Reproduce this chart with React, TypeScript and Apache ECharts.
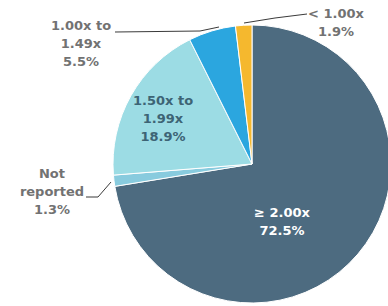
import React, { useEffect, useRef } from "react";
import * as echarts from "echarts";

const categories = ["≥ 2.00x", "Not reported", "1.50x to\n1.99x", "1.00x to\n1.49x", "< 1.00x"];
const values = [72.5, 1.3, 18.9, 5.5, 1.9];
const labelNames = ["≥ 2.00x", "Not\nreported", "1.50x to\n1.99x", "1.00x to\n1.49x", "< 1.00x"];
const colors = ["#4d6b80", "#88cbde", "#9cdce4", "#2ba6df", "#f5b82e"];

// label layout (positions only)
const labelPos: [number, number][] = [
  [282, 221],
  [52, 191],
  [163, 118],
  [81, 43],
  [336, 22],
];
const leaderPts: ([number, number][] | null)[] = [
  null,
  [[86, 197], [98, 197], [111, 182]],
  null,
  [[115, 32], [200, 31], [219, 27]],
  [[307, 14], [275, 18], [244, 23]],
];
const textColors = ["#ffffff", "#727272", "#3d6475", "#727272", "#727272"];

export default function App() {
  const ref = useRef<HTMLDivElement>(null);
  useEffect(() => {
    if (!ref.current) return;
    const chart = echarts.init(ref.current, undefined, { renderer: "svg" });
    const inside = [true, false, true, false, false];
    chart.setOption({
      animation: false,
      backgroundColor: "#ffffff",
      series: [
        {
          type: "pie",
          center: [252, 164],
          radius: 139,
          startAngle: 90,
          clockwise: true,
          avoidLabelOverlap: false,
          itemStyle: { borderColor: "#ffffff", borderWidth: 1 },
          data: categories.map((c, i) => ({
            name: c,
            value: values[i],
            itemStyle: { color: colors[i] },
            label: {
              show: true,
              position: inside[i] ? "inside" : "outside",
              formatter: labelNames[i] + "\n" + values[i].toFixed(1) + "%",
              color: textColors[i],
              fontFamily: "DejaVu Sans",
              fontWeight: "bold",
              fontSize: 13,
              lineHeight: 18,
              align: "center",
            },
            labelLine: {
              show: !inside[i],
              lineStyle: { color: "#3a3a3a", width: 1 },
            },
          })),
          labelLayout: (params: any) => {
            const i = params.dataIndex;
            const res: any = {
              x: labelPos[i][0],
              y: labelPos[i][1],
              align: "center",
              verticalAlign: "middle",
            };
            if (leaderPts[i]) res.labelLinePoints = leaderPts[i];
            return res;
          },
        },
      ],
    });
    return () => chart.dispose();
  }, []);
  return (
    <div
      ref={ref}
      style={{ position: "fixed", left: 0, top: 0, width: 388, height: 306 }}
    />
  );
}
